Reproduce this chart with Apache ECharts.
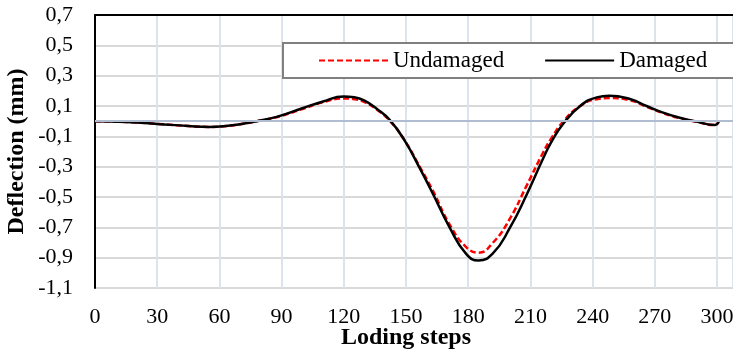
<!DOCTYPE html>
<html>
<head>
<meta charset="utf-8">
<script src="https://cdn.jsdelivr.net/npm/echarts@6/dist/echarts.min.js"></script>
<style>
html, body { margin: 0; padding: 0; background: #fff; }
#chart { width: 733px; height: 351px; }
</style>
</head>
<body>
<div id="chart"></div>
<script>
// loading steps where the curves were read
const steps = [0, 15, 30, 45, 55, 62, 70, 78, 88, 100, 110, 120, 125, 130, 136, 142, 149, 157, 163, 171, 179, 185, 192, 200, 208, 216, 220, 226, 234, 242, 248, 258, 266, 274, 282, 290, 299, 301]
// deflection (mm)
const undamaged = [0, -0.005, -0.018, -0.032, -0.038, -0.034, -0.02, 0, 0.028, 0.08, 0.125, 0.15, 0.145, 0.125, 0.075, 0.005, -0.12, -0.31, -0.46, -0.68, -0.83, -0.867, -0.80, -0.645, -0.43, -0.21, -0.115, 0.0, 0.1, 0.145, 0.152, 0.138, 0.095, 0.053, 0.02, -0.004, -0.025, 0.003]
const damaged = [0, -0.005, -0.018, -0.032, -0.038, -0.034, -0.02, 0, 0.03, 0.085, 0.13, 0.162, 0.157, 0.135, 0.08, 0.01, -0.12, -0.32, -0.48, -0.70, -0.875, -0.918, -0.87, -0.706, -0.49, -0.25, -0.14, -0.014, 0.1, 0.157, 0.168, 0.146, 0.1, 0.056, 0.023, -0.003, -0.025, 0.003]
const seriesNames = ['Undamaged', 'Damaged']

const font = 'Liberation Serif'
const chart = echarts.init(document.getElementById('chart'))

const pairs = (ys) => steps.map((s, i) => [s, ys[i]])

const option = {
  animation: false,
  grid: { left: 95, top: 15, right: 0, bottom: 63, outerBoundsMode: 'none', containLabel: false },
  legend: {
    data: seriesNames,
    left: 283,
    top: 43,
    width: 420,
    padding: [6, 28, 6, 35],
    itemGap: 40,
    itemWidth: 69,
    itemHeight: 14,
    backgroundColor: '#fff',
    borderColor: '#808080',
    borderWidth: 2,
    itemStyle: { opacity: 0 },
    textStyle: { fontFamily: font, fontSize: 23, color: '#000' }
  },
  xAxis: [{
    type: 'value',
    min: 0,
    max: 307.7,
    interval: 30,
    name: 'Loding steps',
    nameLocation: 'middle',
    nameMoveOverlap: false,
    nameGap: 38,
    nameTextStyle: { fontFamily: font, fontSize: 24, fontWeight: 'bold', color: '#000', padding: [0, 16, 0, 0] },
    axisLine: { lineStyle: { color: '#000', width: 2 } },
    axisTick: { show: false },
    axisLabel: {
      fontFamily: font, fontSize: 22, color: '#000', margin: 18, showMaxLabel: false,
      formatter: v => (Math.abs(v % 30) < 1e-6 ? String(v) : '')
    },
    splitLine: { lineStyle: { color: '#dde3ec', width: 2 } }
  }, {
    type: 'value',
    position: 'top',
    min: 0,
    max: 307.7,
    axisLine: { show: true, lineStyle: { color: '#000', width: 2 } },
    axisTick: { show: false },
    axisLabel: { show: false },
    splitLine: { show: false }
  }],
  yAxis: {
    type: 'value',
    min: -1.1,
    max: 0.7,
    interval: 0.2,
    name: 'Deflection (mm)',
    nameLocation: 'middle',
    nameMoveOverlap: false,
    nameGap: 66,
    nameTextStyle: { fontFamily: font, fontSize: 24, fontWeight: 'bold', color: '#000' },
    axisLine: { show: true, lineStyle: { color: '#000', width: 2 } },
    axisTick: { show: false },
    axisLabel: {
      fontFamily: font, fontSize: 22, color: '#000', margin: 22,
      formatter: v => v.toFixed(1).replace('.', ',')
    },
    splitLine: { lineStyle: { color: '#d9d9d9', width: 2 } }
  },
  series: [{
    name: seriesNames[0],
    type: 'line',
    data: pairs(undamaged),
    smooth: 0.5,
    symbol: 'none',
    lineStyle: { color: '#ff0000', width: 2.5, type: [6, 3] },
    itemStyle: { color: '#ff0000' },
    markLine: {
      silent: true,
      symbol: 'none',
      label: { show: false },
      lineStyle: { color: '#b0bdd0', width: 2, type: 'solid' },
      data: [{ yAxis: 0 }]
    }
  }, {
    name: seriesNames[1],
    type: 'line',
    data: pairs(damaged),
    smooth: 0.5,
    symbol: 'none',
    lineStyle: { color: '#000', width: 2.5 },
    itemStyle: { color: '#000' }
  }]
}

chart.setOption(option)
</script>
</body>
</html>
